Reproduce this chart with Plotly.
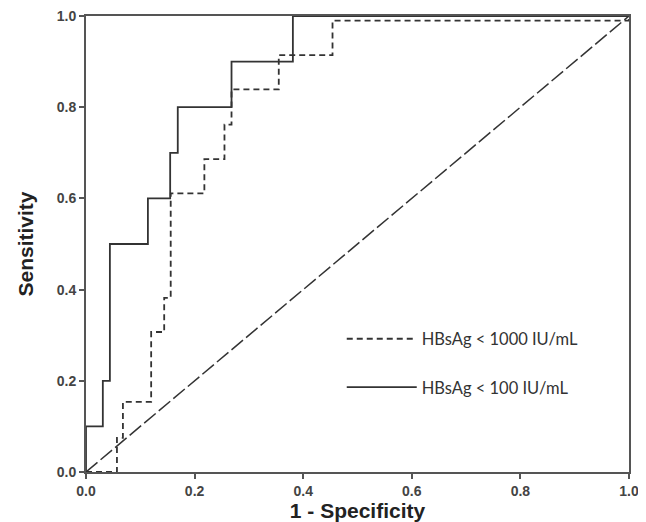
import plotly.graph_objects as go

# ROC curve corner points (1 - specificity, sensitivity)
fpr_1000 = [0.0, 0.057, 0.068, 0.120, 0.144, 0.156, 0.218, 0.255, 0.268, 0.355, 0.454, 1.0, 1.0]
tpr_1000 = [0.0, 0.075, 0.154, 0.307, 0.382, 0.611, 0.686, 0.762, 0.839, 0.914, 0.990, 0.990, 1.0]

fpr_100 = [0.0, 0.0, 0.031, 0.044, 0.114, 0.155, 0.169, 0.268, 0.381, 1.0]
tpr_100 = [0.0, 0.1, 0.2, 0.5, 0.6, 0.7, 0.8, 0.9, 1.0, 1.0]

ref_x = [0.0, 1.0]
ref_y = [0.0, 1.0]

tick_vals = [0.0, 0.2, 0.4, 0.6, 0.8, 1.0]
tick_text = ["0.0", "0.2", "0.4", "0.6", "0.8", "1.0"]

line_col = "#333333"

fig = go.Figure()

fig.add_trace(go.Scatter(
    x=fpr_1000, y=tpr_1000, mode="lines", line_shape="hv",
    name="HBsAg < 1000 IU/mL", legendgroup="a",
    line=dict(color=line_col, width=1.8, dash="6px,4px")
))
fig.add_trace(go.Scatter(
    x=fpr_100, y=tpr_100, mode="lines", line_shape="hv",
    name="HBsAg < 100 IU/mL", legendgroup="b",
    line=dict(color=line_col, width=1.8)
))
# reference diagonal
fig.add_trace(go.Scatter(
    x=ref_x, y=ref_y, mode="lines", showlegend=False,
    line=dict(color=line_col, width=1.5, dash="15px,4px")
))

axis_common = dict(
    range=[0, 1], tickvals=tick_vals, ticktext=tick_text,
    showgrid=False, zeroline=False, showline=True, mirror=True,
    linecolor="#555", linewidth=1.8, automargin=False,
    ticks="outside", ticklen=5, tickwidth=1.5, tickcolor="#555",
    ticklabeloverflow="allow",
    tickfont=dict(family="Liberation Sans", size=14, color="#444", weight="bold"),
)

# page body has an 8px margin, so the figure is sized to fit the window
fig.update_layout(
    width=638, height=514,
    margin=dict(l=78, r=17, t=8, b=50),
    plot_bgcolor="white", paper_bgcolor="white",
    xaxis=dict(axis_common, title=dict(text="1 - Specificity", standoff=5,
               font=dict(family="Liberation Sans", size=21, color="#222", weight="bold"))),
    yaxis=dict(axis_common, title=dict(text="Sensitivity", standoff=17,
               font=dict(family="Liberation Sans", size=21, color="#222", weight="bold"))),
    legend=dict(
        x=0.471, y=0.33, xanchor="left", yanchor="top",
        bgcolor="rgba(0,0,0,0)", itemwidth=70, tracegroupgap=24,
        font=dict(family="Lato", size=16.5, color="#333"),
    ),
    showlegend=True,
)

fig.write_html("out.html")
